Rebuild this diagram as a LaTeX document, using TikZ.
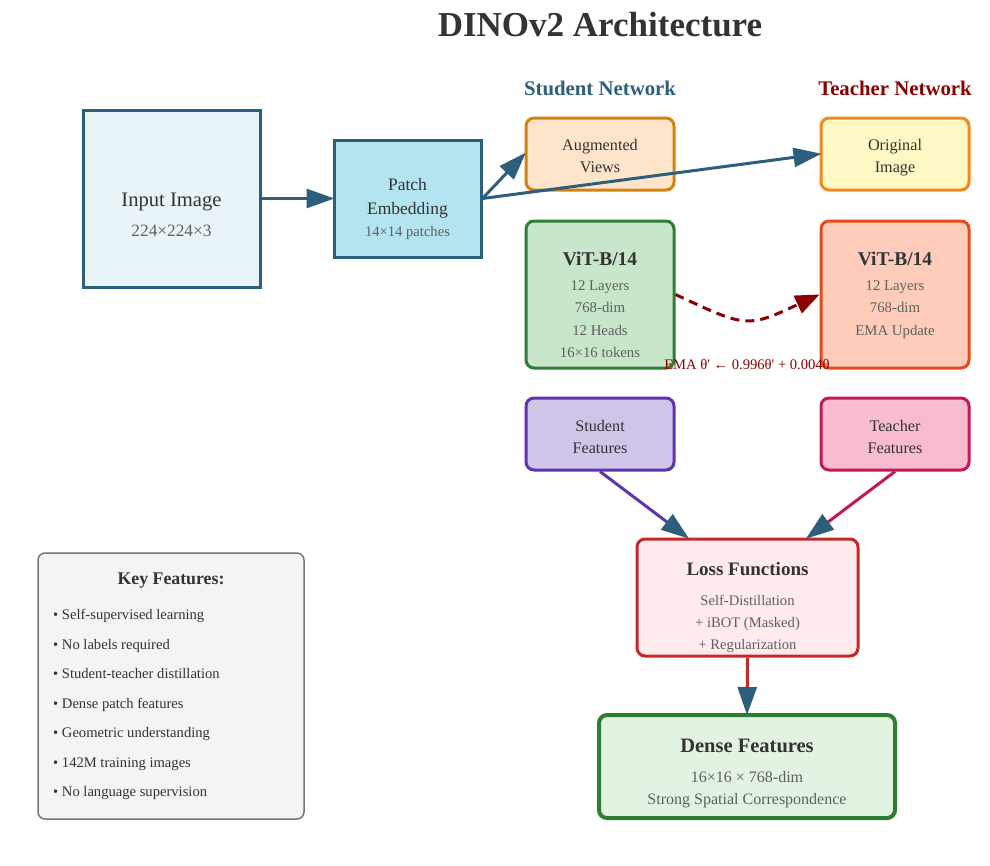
\documentclass[tikz,border=0pt]{standalone}
\usepackage{fontspec}
\setmainfont{Liberation Serif}
\usetikzlibrary{arrows.meta}
\definecolor{arrowc}{HTML}{2C5F7C}
\definecolor{txtc}{HTML}{333333}
\definecolor{subc}{HTML}{5F5F5F}
\definecolor{emac}{HTML}{8B0000}
\definecolor{inpfill}{HTML}{E8F4F8}
\definecolor{patchfill}{HTML}{B4E4F0}
\definecolor{augfill}{HTML}{FFE4CC}
\definecolor{augdraw}{HTML}{D4820E}
\definecolor{origfill}{HTML}{FFF8C4}
\definecolor{origdraw}{HTML}{F5871F}
\definecolor{vsfill}{HTML}{C8E6C9}
\definecolor{vsdraw}{HTML}{2E7D32}
\definecolor{vtfill}{HTML}{FFCCBC}
\definecolor{vtdraw}{HTML}{E64A19}
\definecolor{sffill}{HTML}{D1C4E9}
\definecolor{sfdraw}{HTML}{5E35B1}
\definecolor{tffill}{HTML}{F8BBD0}
\definecolor{tfdraw}{HTML}{C2185B}
\definecolor{lossfill}{HTML}{FFEBEE}
\definecolor{lossdraw}{HTML}{C62828}
\definecolor{densefill}{HTML}{E3F3E1}
\definecolor{keyfill}{HTML}{F4F4F4}
\definecolor{keydraw}{HTML}{757575}
\newcommand{\fs}[1]{\fontsize{#1}{#1}\selectfont}
\tikzset{
  box/.style={draw, line width=3pt, inner sep=0pt, rectangle},
  rbox/.style={box, rounded corners=8pt},
  txt/.style={anchor=base, inner sep=0pt, text=txtc},
  sub/.style={anchor=base, inner sep=0pt, text=subc},
  bigarrow/.style={line width=3pt, shorten >=-2pt, -{Triangle[length=28pt,width=19pt,color=arrowc]}},
}
\begin{document}
\begin{tikzpicture}[x=1pt,y=-1pt]
\useasboundingbox (0,0) rectangle (990,865);
% title
\node[txt,font=\fs{35}\bfseries] (title) at (600,36) {DINOv2 Architecture};
\node[anchor=base,inner sep=0pt,text=arrowc,font=\fs{20.8}\bfseries] (sn) at (600,95) {Student Network};
\node[anchor=base,inner sep=0pt,text=emac,font=\fs{20.8}\bfseries] (tn) at (895,95) {Teacher Network};

% boxes
\node[box, draw=arrowc, fill=inpfill, minimum width=177pt, minimum height=177pt] (inp) at (171.5,198.5) {};
\node[box, draw=arrowc, fill=patchfill, minimum width=147pt, minimum height=117pt] (patch) at (407.5,198.5) {};
\node[rbox, draw=augdraw, fill=augfill, minimum width=148pt, minimum height=72pt] (aug) at (600,154) {};
\node[rbox, draw=origdraw, fill=origfill, minimum width=148pt, minimum height=72pt] (orig) at (895,154) {};
\node[rbox, draw=vsdraw, fill=vsfill, minimum width=148pt, minimum height=147pt] (vs) at (600,294.5) {};
\node[rbox, draw=vtdraw, fill=vtfill, minimum width=148pt, minimum height=147pt] (vt) at (895,294.5) {};
\node[rbox, draw=sfdraw, fill=sffill, minimum width=148pt, minimum height=72pt] (sf) at (600,434) {};
\node[rbox, draw=tfdraw, fill=tffill, minimum width=148pt, minimum height=72pt] (tf) at (895,434) {};
\node[rbox, draw=lossdraw, fill=lossfill, minimum width=221pt, minimum height=117pt] (loss) at (747.5,597.5) {};
\node[rbox, line width=4pt, draw=vsdraw, fill=densefill, minimum width=296pt, minimum height=103pt] (dense) at (747,766.5) {};
\node[draw=keydraw, line width=1.5pt, fill=keyfill, rounded corners=7pt, inner sep=0pt, minimum width=266pt, minimum height=266pt] (key) at (171,686) {};

% box texts
\node[txt,font=\fs{20.6}] (inp1) at (171.5,206) {Input Image};
\node[sub,font=\fs{17.3}] (inp2) at (171.5,236) {224×224×3};
\node[txt,font=\fs{17.5}] (pa1) at (407.5,190.5) {Patch};
\node[txt,font=\fs{17.5}] (pa2) at (407.5,214) {Embedding};
\node[sub,font=\fs{14.6}] (pa3) at (407.5,236) {14×14 patches};
\node[txt,font=\fs{16.2}] (au1) at (600,150) {Augmented};
\node[txt,font=\fs{16.2}] (au2) at (600,172.5) {Views};
\node[txt,font=\fs{16.2}] (or1) at (895,150) {Original};
\node[txt,font=\fs{16.2}] (or2) at (895,172.5) {Image};
\node[txt,font=\fs{19.5}\bfseries] (vs1) at (600,265.5) {ViT-B/14};
\node[sub,font=\fs{14.8}] (vs2) at (600,290) {12 Layers};
\node[sub,font=\fs{14.8}] (vs3) at (600,312) {768-dim};
\node[sub,font=\fs{14.8}] (vs4) at (600,335) {12 Heads};
\node[sub,font=\fs{14.8}] (vs5) at (600,357) {16×16 tokens};
\node[txt,font=\fs{19.5}\bfseries] (vt1) at (895,265.5) {ViT-B/14};
\node[sub,font=\fs{14.8}] (vt2) at (895,290) {12 Layers};
\node[sub,font=\fs{14.8}] (vt3) at (895,312) {768-dim};
\node[sub,font=\fs{14.8}] (vt4) at (895,335) {EMA Update};
\node[txt,font=\fs{16.2}] (sf1) at (600,431) {Student};
\node[txt,font=\fs{16.2}] (sf2) at (600,453.5) {Features};
\node[txt,font=\fs{16.2}] (tf1) at (895,431) {Teacher};
\node[txt,font=\fs{16.2}] (tf2) at (895,453.5) {Features};
\node[txt,font=\fs{19}\bfseries] (lo1) at (747.5,575.5) {Loss Functions};
\node[sub,font=\fs{14.6}] (lo2) at (747.5,605) {Self-Distillation};
\node[sub,font=\fs{14.6}] (lo3) at (747.5,627) {+ iBOT (Masked)};
\node[sub,font=\fs{14.6}] (lo4) at (747.5,649) {+ Regularization};
\node[txt,font=\fs{20.5}\bfseries] (de1) at (747,752.5) {Dense Features};
\node[sub,font=\fs{16}] (de2) at (747,782) {16×16 × 768-dim};
\node[sub,font=\fs{16}] (de3) at (747,804) {Strong Spatial Correspondence};
\node[txt,font=\fs{17.8}\bfseries] (k0) at (171,584) {Key Features:};
\foreach \i/\t in {1/Self-supervised learning,2/No labels required,3/Student-teacher distillation,4/Dense patch features,5/Geometric understanding,6/142M training images,7/No language supervision}{
  \node[anchor=base west,inner sep=0pt,text=txtc,font=\fs{14.6}] (k\i) at (53,{619.5+29.5*(\i-1)}) {• \t};
}

% connectors
\draw[bigarrow, arrowc] (inp.east) -- (patch.west);
\draw[bigarrow, arrowc] (patch.east) -- (aug.west);
\draw[bigarrow, arrowc] (patch.east) -- (orig.west);
\draw[line width=3pt, emac, dash pattern=on 9pt off 6pt, -{Triangle[length=24pt,width=19pt,color=emac]}]
  (vs.east) .. controls (747,328) .. (vt.west);
\node[anchor=base,inner sep=0pt,text=emac,font=\fs{14.6}] (ema) at (747,369) {EMA θ\textquotesingle{} ← 0.996θ\textquotesingle{} + 0.004θ};
\draw[line width=3pt, sfdraw, shorten >=-2pt, -{Triangle[length=28pt,width=19pt,color=arrowc]}] (sf.south) -- ([xshift=-60pt]loss.north);
\draw[line width=3pt, tfdraw, shorten >=-2pt, -{Triangle[length=28pt,width=19pt,color=arrowc]}] (tf.south) -- ([xshift=60pt]loss.north);
\draw[line width=3pt, lossdraw, shorten >=-2pt, -{Triangle[length=28pt,width=19pt,color=arrowc]}] (loss.south) -- (dense.north);
\end{tikzpicture}
\end{document}
